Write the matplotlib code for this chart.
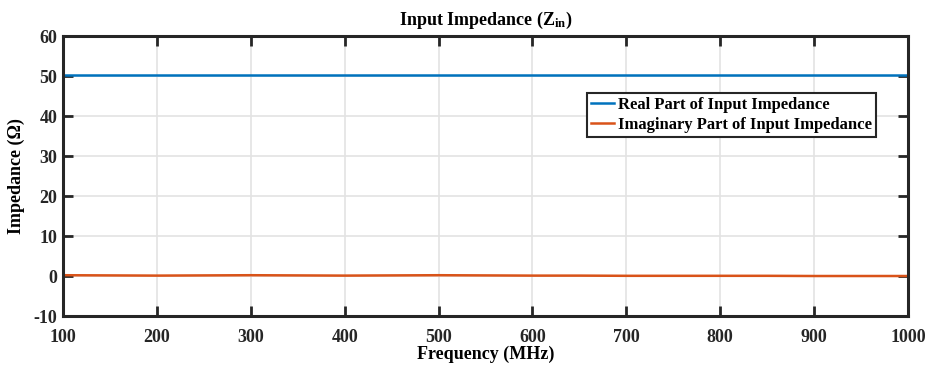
import matplotlib.pyplot as plt
import numpy as np

plt.rcParams['font.family'] = ['Liberation Serif', 'DejaVu Serif']
plt.rcParams['font.weight'] = 'bold'
plt.rcParams['mathtext.fontset'] = 'custom'
plt.rcParams['mathtext.rm'] = 'Liberation Serif:bold'
plt.rcParams['mathtext.bf'] = 'Liberation Serif:bold'
plt.rcParams['mathtext.it'] = 'Liberation Serif:bold'
plt.rcParams['axes.unicode_minus'] = False

# frequency points (MHz) and impedance values
freq = [100, 150, 200, 250, 300, 350, 400, 450, 500, 550, 600, 650, 700, 750, 800, 850, 900, 950, 1000]
realZ = [50.2, 50.2, 50.2, 50.2, 50.2, 50.2, 50.2, 50.2, 50.2, 50.2, 50.2, 50.2, 50.2, 50.2, 50.2, 50.2, 50.2, 50.2, 50.2]
imagZ = [0.2, 0.15, 0.1, 0.15, 0.2, 0.15, 0.1, 0.15, 0.2, 0.15, 0.1, 0.1, 0.05, 0.05, 0.05, 0.05, 0.0, 0.0, 0.0]

fig = plt.figure(figsize=(9.31, 3.69), dpi=100)
ax = fig.add_axes([0.0677, 0.1436, 0.9076, 0.7588])

ax.plot(freq, realZ, color='#0072BD', linewidth=1.8, label='Real Part of Input Impedance')
ax.plot(freq, imagZ, color='#D95319', linewidth=1.8, label='Imaginary Part of Input Impedance')

ax.set_xlim(100, 1000)
ax.set_ylim(-10, 60)
ax.set_xticks(np.arange(100, 1001, 100))
ax.set_yticks(np.arange(-10, 61, 10))
ax.grid(True, color='#e3e3e3', linewidth=1.2)
ax.set_axisbelow(True)
ax.tick_params(direction='in', length=7, width=2, top=True, right=True, labelsize=13, colors='#262626')
ax.tick_params(axis='x', pad=9)
ax.tick_params(axis='y', pad=4)
for s in ax.spines.values():
    s.set_linewidth(2.2)
    s.set_color('#262626')

ax.set_xlabel('Frequency (MHz)', fontsize=13, fontweight='bold', labelpad=0)
ax.set_ylabel('Impedance (\u03a9)', fontsize=13, fontweight='bold', labelpad=6)
ax.set_title('Input Impedance (Z$_{\\mathrm{in}}$)', fontsize=13, fontweight='bold', pad=8)

leg = ax.legend(loc='upper left', bbox_to_anchor=(0.620, 0.796), fontsize=12, frameon=True,
                fancybox=False, edgecolor='#262626', handlelength=1.4, handletextpad=0.2,
                borderpad=0.25, labelspacing=0.2, borderaxespad=0, framealpha=1)
leg.get_frame().set_linewidth(1.5)

plt.savefig('out.png', dpi=100)
